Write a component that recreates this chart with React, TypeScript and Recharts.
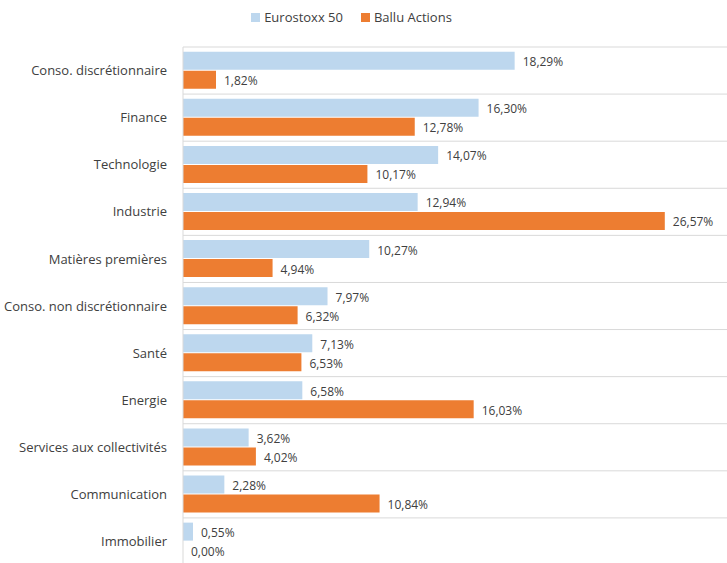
import React from 'react'
import { BarChart, Bar, XAxis, YAxis, CartesianGrid, Legend } from 'recharts'

const sectors = [
  'Conso. discrétionnaire',
  'Finance',
  'Technologie',
  'Industrie',
  'Matières premières',
  'Conso. non discrétionnaire',
  'Santé',
  'Energie',
  'Services aux collectivités',
  'Communication',
  'Immobilier',
]
const eurostoxx = [18.29, 16.3, 14.07, 12.94, 10.27, 7.97, 7.13, 6.58, 3.62, 2.28, 0.55]
const ballu = [1.82, 12.78, 10.17, 26.57, 4.94, 6.32, 6.53, 16.03, 4.02, 10.84, 0]

const data = sectors.map((name, i) => ({ name, eurostoxx: eurostoxx[i], ballu: ballu[i] }))

const FONT = '"Open Sans", sans-serif'
const TEXT = '#404040'

const fmt = (v: any) => Number(v).toFixed(2).replace('.', ',') + '%'

// label drawn even when the bar has zero length (Immobilier 0,00%)
const valueLabel = (props: any) => {
  const { x, y, width, height, value } = props
  return (
    <text
      x={Number(x) + Number(width || 0) + 8}
      y={Number(y) + Number(height) / 2 + 1}
      dominantBaseline="central"
      fill={TEXT}
      fontSize={12}
      fontFamily={FONT}
    >
      {fmt(value)}
    </text>
  )
}

const LegendBox = () => (
  <div style={{ height: 47, display: 'flex', justifyContent: 'center', paddingRight: 24, fontFamily: FONT, fontSize: 13, color: TEXT }}>
    <div style={{ display: 'flex', alignItems: 'center', marginTop: 6, height: 22 }}>
      <span style={{ width: 9, height: 9, background: '#bdd7ee', marginRight: 4 }} />
      <span style={{ marginRight: 18 }}>Eurostoxx 50</span>
      <span style={{ width: 9, height: 9, background: '#ed7d31', marginRight: 4 }} />
      <span>Ballu Actions</span>
    </div>
  </div>
)

const App = () => {
  const bandLines = ({ offset }: any) => {
    const lines: number[] = []
    const step = offset.height / sectors.length
    for (let i = 0; i <= sectors.length; i++) lines.push(offset.top + i * step)
    return lines
  }

  return (
    <div style={{ position: 'absolute', left: 0, top: 0, background: '#fff' }}>
      <BarChart
        width={727}
        height={565}
        data={data}
        layout="vertical"
        margin={{ top: 0, right: 0, bottom: 0, left: 0 }}
        barCategoryGap="10%"
        barGap={1}
      >
        <CartesianGrid horizontal vertical={false} stroke="#d9d9d9" horizontalCoordinatesGenerator={bandLines} />
        <XAxis type="number" domain={[0, 30]} hide />
        <YAxis
          type="category"
          dataKey="name"
          width={183}
          tickLine={false}
          tickMargin={10}
          axisLine={{ stroke: '#d9d9d9' }}
          tick={{ fill: TEXT, fontSize: 13, fontFamily: FONT }}
          interval={0}
        />
        <Legend verticalAlign="top" content={<LegendBox />} />
        <Bar dataKey="eurostoxx" name="Eurostoxx 50" fill="#bdd7ee" isAnimationActive={false} label={valueLabel} />
        <Bar dataKey="ballu" name="Ballu Actions" fill="#ed7d31" isAnimationActive={false} label={valueLabel} minPointSize={0.01} />
      </BarChart>
    </div>
  )
}

export default App
